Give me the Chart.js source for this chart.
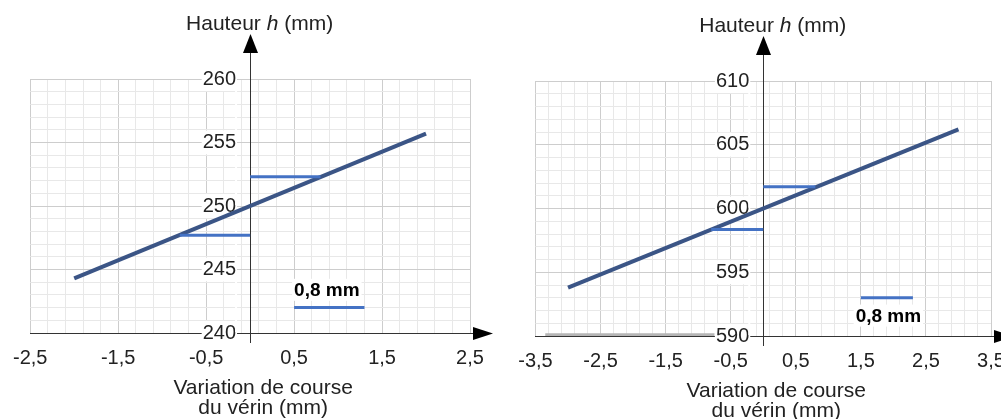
<!DOCTYPE html>
<html>
<head>
<meta charset="utf-8">
<script src="https://cdn.jsdelivr.net/npm/chart.js@4.4.1/dist/chart.umd.min.js"></script>
<style>
  html, body { margin: 0; padding: 0; background: #fff; overflow: hidden; width: 1001px; height: 419px; }
  canvas { position: absolute; top: 0; }
  #left { left: 0; }
  #right { left: 500px; }
</style>
</head>
<body>
<canvas id="left" width="500" height="419"></canvas>
<canvas id="right" width="540" height="419"></canvas>
<script>
// ---- left chart (h around 250 mm) ----
const leftLineX = [-2, 2];
const leftLineH = [244.3, 255.7];
const leftUpperX = [0, 0.8];
const leftUpperH = [252.3, 252.3];
const leftLowerX = [-0.8, 0];
const leftLowerH = [247.7, 247.7];
const leftScaleX = [0.5, 1.3];
const leftScaleH = [242, 242];
const leftXLabels = [-2.5, -1.5, -0.5, 0.5, 1.5, 2.5];
const leftYLabels = [240, 245, 250, 255, 260];

// ---- right chart (h around 600 mm) ----
const rightLineX = [-3, 3];
const rightLineH = [593.8, 606.2];
const rightUpperX = [0, 0.8];
const rightUpperH = [601.7, 601.7];
const rightLowerX = [-0.8, 0];
const rightLowerH = [598.35, 598.35];
const rightScaleX = [1.5, 2.3];
const rightScaleH = [593, 593];
const rightGreyX = [-3.35, -0.75];
const rightGreyH = [590.1, 590.1];
const rightXLabels = [-3.5, -2.5, -1.5, -0.5, 0.5, 1.5, 2.5, 3.5];
const rightYLabels = [590, 595, 600, 605, 610];

const noteText = '0,8 mm';
const yTitle = ['Hauteur ', 'h', ' (mm)'];
const xTitle = ['Variation de course', 'du vérin (mm)'];

const FONT = '"Liberation Sans", Arial, sans-serif';

function pts(xs, ys) {
  return xs.map((v, i) => ({ x: v, y: ys[i] }));
}

function has(list, v) {
  return list.some(l => Math.abs(l - v) < 1e-6);
}

function seg(xs, ys, color, width) {
  return {
    data: pts(xs, ys),
    showLine: true,
    borderColor: color,
    borderWidth: width,
    pointRadius: 0,
    borderCapStyle: 'butt'
  };
}

// axis extensions, arrows, titles and the "0,8 mm" note
const decor = {
  id: 'decor',
  beforeDatasetsDraw(chart) {
    const { ctx, chartArea: a, scales: { x } } = chart;
    const x0 = Math.round(x.getPixelForValue(0)) + 0.5;
    const yb = Math.round(a.bottom) + 0.5;
    ctx.save();
    ctx.strokeStyle = '#333';
    ctx.lineWidth = 1;
    ctx.beginPath();
    ctx.moveTo(x0, a.bottom + 10);
    ctx.lineTo(x0, a.bottom);
    ctx.moveTo(x0, a.top);
    ctx.lineTo(x0, a.top - 28);
    ctx.moveTo(a.right, yb);
    ctx.lineTo(a.right + 4, yb);
    ctx.stroke();
    ctx.fillStyle = '#000';
    // up arrow
    const tip = a.top - 45;
    ctx.beginPath();
    ctx.moveTo(x0, tip);
    ctx.lineTo(x0 + 7.5, tip + 19);
    ctx.lineTo(x0 - 7.5, tip + 19);
    ctx.closePath();
    ctx.fill();
    // right arrow
    const tipX = a.right + 23;
    ctx.beginPath();
    ctx.moveTo(tipX, yb);
    ctx.lineTo(tipX - 20, yb - 6.5);
    ctx.lineTo(tipX - 20, yb + 6.5);
    ctx.closePath();
    ctx.fill();
    ctx.restore();
  },
  afterDraw(chart, args, o) {
    const { ctx, chartArea: a, scales: { x, y } } = chart;
    const x0 = x.getPixelForValue(0);
    ctx.save();
    ctx.fillStyle = '#222';
    ctx.textBaseline = 'middle';
    // vertical axis title, h in italics
    const f = '21px ' + FONT, fi = 'italic 21px ' + FONT;
    ctx.font = f;
    const w1 = ctx.measureText(yTitle[0]).width, w3 = ctx.measureText(yTitle[2]).width;
    ctx.font = fi;
    const w2 = ctx.measureText(yTitle[1]).width;
    const tx = x0 + 9.5 - (w1 + w2 + w3) / 2;
    const ty = a.top - 55;
    ctx.textAlign = 'left';
    ctx.font = f; ctx.fillText(yTitle[0], tx, ty);
    ctx.font = fi; ctx.fillText(yTitle[1], tx + w1, ty);
    ctx.font = f; ctx.fillText(yTitle[2], tx + w1 + w2, ty);
    // horizontal axis title
    ctx.textAlign = 'center';
    ctx.fillText(xTitle[0], x0 + 13, a.bottom + 55);
    ctx.fillText(xTitle[1], x0 + 13, a.bottom + 75);
    // note
    const n = o.note;
    const nx = x.getPixelForValue(n.x), ny = y.getPixelForValue(n.y);
    ctx.font = 'bold 19px ' + FONT;
    const nw = ctx.measureText(noteText).width;
    ctx.fillStyle = '#fff';
    ctx.fillRect(nx - 2, ny - 11, nw + 4, 22);
    ctx.fillStyle = '#000';
    ctx.textAlign = 'left';
    ctx.fillText(noteText, nx, ny + 1);
    ctx.restore();
  }
};

function makeChart(id, datasets, xMin, xMax, yMin, yMax, xLabels, yLabels, padding, labelShift, note) {
  const fmt = v => String(v).replace('.', ',');
  const gridColor = list => c => has(list, c.tick.value) ? '#cdcdcd' : '#e8e8e8';
  return new Chart(document.getElementById(id), {
    type: 'scatter',
    data: { datasets },
    options: {
      responsive: false,
      animation: false,
      events: [],
      layout: { padding },
      plugins: {
        legend: { display: false },
        tooltip: { enabled: false },
        decor: { note }
      },
      scales: {
        x: {
          type: 'linear',
          min: xMin,
          max: xMax,
          position: { y: yMin },
          border: { display: true, color: '#333', width: 1 },
          grid: { drawTicks: false, color: gridColor(xLabels) },
          ticks: {
            stepSize: 0.2,
            autoSkip: false,
            maxRotation: 0,
            padding: 13,
            color: '#222',
            font: { family: FONT, size: 20 },
            callback: v => has(xLabels, v) ? fmt(v) : ''
          }
        },
        y: {
          type: 'linear',
          min: yMin,
          max: yMax,
          position: { x: 0 },
          border: { display: true, color: '#333', width: 1 },
          grid: { drawTicks: false, color: gridColor(yLabels) },
          ticks: { stepSize: 1, display: false }
        },
        // tick labels of the vertical axis, set a little left of x = 0
        yl: {
          axis: 'y',
          type: 'linear',
          min: yMin,
          max: yMax,
          position: { x: -labelShift },
          border: { display: false },
          grid: { display: false, drawTicks: false },
          ticks: {
            stepSize: 1,
            autoSkip: false,
            color: '#222',
            font: { family: FONT, size: 20 },
            showLabelBackdrop: true,
            backdropColor: '#fff',
            backdropPadding: { top: 0, bottom: 0, left: 1, right: 1 },
            callback: v => has(yLabels, v) ? fmt(v) : ''
          }
        }
      }
    },
    plugins: [decor]
  });
}

const blue = '#4472c4';
const navy = '#3b5586';

makeChart('left', [
  seg(leftUpperX, leftUpperH, blue, 3),
  seg(leftLowerX, leftLowerH, blue, 3),
  seg(leftScaleX, leftScaleH, blue, 3),
  seg(leftLineX, leftLineH, navy, 4)
], -2.5, 2.5, 240, 260, leftXLabels, leftYLabels,
  { left: 27, right: 30, top: 79, bottom: 86 }, 0.16, { x: 0.5, y: 243.4 });

makeChart('right', [
  seg(rightGreyX, rightGreyH, '#b5b5b5', 3),
  seg(rightUpperX, rightUpperH, blue, 3),
  seg(rightLowerX, rightLowerH, blue, 3),
  seg(rightScaleX, rightScaleH, blue, 3),
  seg(rightLineX, rightLineH, navy, 4)
], -3.5, 3.5, 590, 610, rightXLabels, rightYLabels,
  { left: 35.5, right: 49, top: 81, bottom: 83 }, 0.215, { x: 1.42, y: 591.6 });
</script>
</body>
</html>
